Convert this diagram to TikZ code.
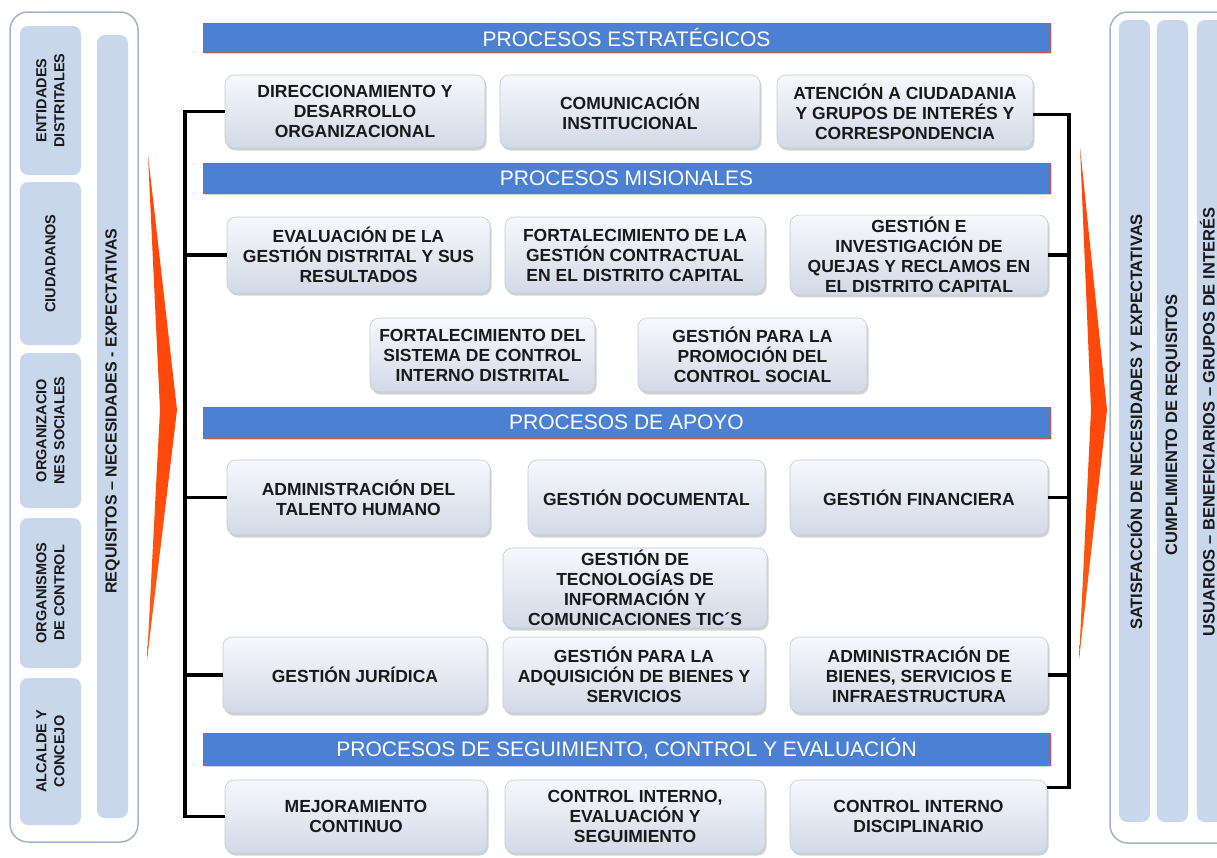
\documentclass[tikz,border=0pt]{standalone}
\usepackage{fontspec}
\setmainfont{Liberation Sans}
\usetikzlibrary{shadows,calc}
\definecolor{boxtop}{RGB}{246,248,252}
\definecolor{boxbot}{RGB}{210,218,231}
\definecolor{boxline}{RGB}{196,202,214}
\definecolor{hdrblue}{RGB}{76,128,210}
\definecolor{hdrline}{RGB}{178,92,92}
\definecolor{panelline}{RGB}{160,180,205}
\definecolor{panelfill}{RGB}{200,215,236}
\definecolor{arrowred}{RGB}{255,72,10}
\definecolor{arroworange}{RGB}{245,120,30}
\definecolor{arrowend}{RGB}{170,140,125}
\definecolor{arrowtop}{RGB}{150,100,80}
\definecolor{txt}{RGB}{25,25,25}
\pgfdeclareverticalshading{chev}{100bp}{color(0bp)=(arrowend); color(8bp)=(arroworange); color(45bp)=(arrowred); color(80bp)=(arrowred); color(93bp)=(arrowtop); color(100bp)=(arrowend)}
\begin{document}
\begin{tikzpicture}[x=1pt,y=-1pt,
  proc/.style={draw=boxline, line width=0.6pt, rounded corners=9pt,
    top color=boxtop, bottom color=boxbot, align=center, inner sep=2pt,
    text=txt, font=\fontsize{17.5}{20}\selectfont\bfseries,
    drop shadow={shadow xshift=1.5pt, shadow yshift=-2.5pt, opacity=0.35}},
  hdr/.style={draw=hdrline, line width=1pt, fill=hdrblue, text=white,
    minimum width=847pt, inner sep=0pt,
    font=\fontsize{21}{24}\selectfont,
    drop shadow={shadow xshift=1.5pt, shadow yshift=-2pt, opacity=0.3}},
  panel/.style={draw=panelline, line width=1.5pt, fill=white, rounded corners=18pt},
  side/.style={fill=panelfill, rounded corners=8pt, rotate=90, align=center,
    inner sep=0pt, text=txt, font=\fontsize{14.5}{18}\selectfont\bfseries},
  sidetext/.style={rotate=90, text=txt, inner sep=0pt,
    font=\fontsize{16.5}{20}\selectfont\bfseries},
  conn/.style={draw=black, line width=3.2pt},
  chevron/.style={shading=chev}
]
\useasboundingbox (0,0) rectangle (1217,857);
\clip (0,0) rectangle (1217,857);
\fill[white] (0,0) rectangle (1217,857);

% ---------- left panel ----------
\draw[panel] (10,12) rectangle (138,842);
\node[side, minimum width=149pt, minimum height=61pt] (e1) at (50.5,100.5) {ENTIDADES\\DISTRITALES};
\node[side, minimum width=163pt, minimum height=61pt] (e2) at (50.5,263.5) {CIUDADANOS};
\node[side, minimum width=155pt, minimum height=61pt] (e3) at (50.5,430.5) {ORGANIZACIO\\NES SOCIALES};
\node[side, minimum width=150pt, minimum height=61pt] (e4) at (50.5,593) {ORGANISMOS\\DE CONTROL};
\node[side, minimum width=147pt, minimum height=61pt] (e5) at (50.5,751.5) {ALCALDE Y\\CONCEJO};
\node[side, minimum width=783pt, minimum height=31pt] (req) at (112.5,426.5) {};
\node[sidetext, font=\fontsize{16}{18}\selectfont\bfseries] (reqt) at (112.5,411) {REQUISITOS – NECESIDADES - EXPECTATIVAS};

% ---------- right panel ----------
\draw[panel] (1110,12) rectangle (1250,843);
\node[side, minimum width=802pt, minimum height=31pt] (ca) at (1134.5,421) {};
\node[side, minimum width=802pt, minimum height=31pt] (cb) at (1172.5,421) {};
\node[side, minimum width=802pt, minimum height=50pt] (cc) at (1222,421) {};
\node[sidetext] (sat) at (1135,422) {SATISFACCIÓN DE NECESIDADES Y EXPECTATIVAS};
\node[sidetext] (cum) at (1173,425) {CUMPLIMIENTO DE REQUISITOS};
\node[sidetext] (usu) at (1207.5,422) {USUARIOS – BENEFICIARIOS – GRUPOS DE INTERÉS};

% ---------- chevrons ----------
\path[chevron] (148,155) -- (177,410) -- (147,660) -- (160,410) -- cycle;
\path[chevron] (1080,147) -- (1107,410) -- (1079,660) -- (1091,410) -- cycle;

% ---------- headers ----------
\node[hdr, minimum height=29pt] (h1) at (626.5,37.5) {PROCESOS ESTRATÉGICOS};
\node[hdr, minimum height=30pt] (h2) at (626.5,178) {PROCESOS MISIONALES};
\node[hdr, minimum height=31pt] (h3) at (626.5,422.5) {PROCESOS DE APOYO};
\node[hdr, minimum height=32pt] (h4) at (626.5,749) {PROCESOS DE SEGUIMIENTO, CONTROL Y EVALUACIÓN};

% ---------- process boxes ----------
\node[proc, minimum width=260pt, minimum height=73pt] (s1) at (355,111.5) {DIRECCIONAMIENTO Y\\DESARROLLO\\ORGANIZACIONAL};
\node[proc, minimum width=260pt, minimum height=73pt] (s2) at (630,111.5) {COMUNICACIÓN\\INSTITUCIONAL};
\node[proc, minimum width=256pt, minimum height=73pt] (s3) at (905,111.5) {ATENCIÓN A CIUDADANIA\\Y GRUPOS DE INTERÉS Y\\CORRESPONDENCIA};

\node[proc, minimum width=263pt, minimum height=76pt] (m1) at (358.5,255) {EVALUACIÓN DE LA\\GESTIÓN DISTRITAL Y SUS\\RESULTADOS};
\node[proc, minimum width=260pt, minimum height=76pt] (m2) at (635,255) {FORTALECIMIENTO DE LA\\GESTIÓN CONTRACTUAL\\EN EL DISTRITO CAPITAL};
\node[proc, minimum width=258pt, minimum height=76pt] (m3) at (919,255) {GESTIÓN E\\INVESTIGACIÓN DE\\QUEJAS Y RECLAMOS EN\\EL DISTRITO CAPITAL};
\node[proc, minimum width=225pt, minimum height=74pt] (m4) at (482.5,355) {FORTALECIMIENTO DEL\\SISTEMA DE CONTROL\\INTERNO DISTRITAL};
\node[proc, minimum width=229pt, minimum height=74pt] (m5) at (752.5,355) {GESTIÓN PARA LA\\PROMOCIÓN DEL\\CONTROL SOCIAL};

\node[proc, minimum width=263pt, minimum height=75pt] (a1) at (358.5,497.5) {ADMINISTRACIÓN DEL\\TALENTO HUMANO};
\node[proc, minimum width=237pt, minimum height=75pt] (a2) at (646.5,497.5) {GESTIÓN DOCUMENTAL};
\node[proc, minimum width=258pt, minimum height=75pt] (a3) at (919,497.5) {GESTIÓN FINANCIERA};
\node[proc, minimum width=264pt, minimum height=80pt] (t1) at (635,588) {GESTIÓN DE\\TECNOLOGÍAS DE\\INFORMACIÓN Y\\COMUNICACIONES TIC´S};
\node[proc, minimum width=264pt, minimum height=76pt] (j1) at (355,675) {GESTIÓN JURÍDICA};
\node[proc, minimum width=262pt, minimum height=76pt] (j2) at (634,675) {GESTIÓN PARA LA\\ADQUISICIÓN DE BIENES Y\\SERVICIOS};
\node[proc, minimum width=258pt, minimum height=76pt] (j3) at (919,675) {ADMINISTRACIÓN DE\\BIENES, SERVICIOS E\\INFRAESTRUCTURA};

\node[proc, minimum width=262pt, minimum height=73pt] (c1) at (356,816.5) {MEJORAMIENTO\\CONTINUO};
\node[proc, minimum width=260pt, minimum height=73pt] (c2) at (635,816.5) {CONTROL INTERNO,\\EVALUACIÓN Y\\SEGUIMIENTO};
\node[proc, minimum width=257pt, minimum height=73pt] (c3) at (918.5,816.5) {CONTROL INTERNO\\DISCIPLINARIO};

% ---------- connectors ----------
\coordinate (lx) at (185,0);
\coordinate (rx) at (1069,0);
\draw[conn] (s1.west) -- (s1.west -| lx) -- (lx |- c1.west) -- (c1.west);
\draw[conn] (m1.west) -- (m1.west -| lx);
\draw[conn] (a1.west) -- (a1.west -| lx);
\draw[conn] (j1.west) -- (j1.west -| lx);
\coordinate (s3r) at ([yshift=-3pt]s3.east);
\coordinate (c3r) at ([yshift=-8pt]c3.north east);
\draw[conn] (s3r) -- (s3r -| rx) -- (rx |- c3r) -- (c3r);
\draw[conn] (m3.east) -- (m3.east -| rx);
\draw[conn] (a3.east) -- (a3.east -| rx);
\draw[conn] (j3.east) -- (j3.east -| rx);
\end{tikzpicture}
\end{document}
